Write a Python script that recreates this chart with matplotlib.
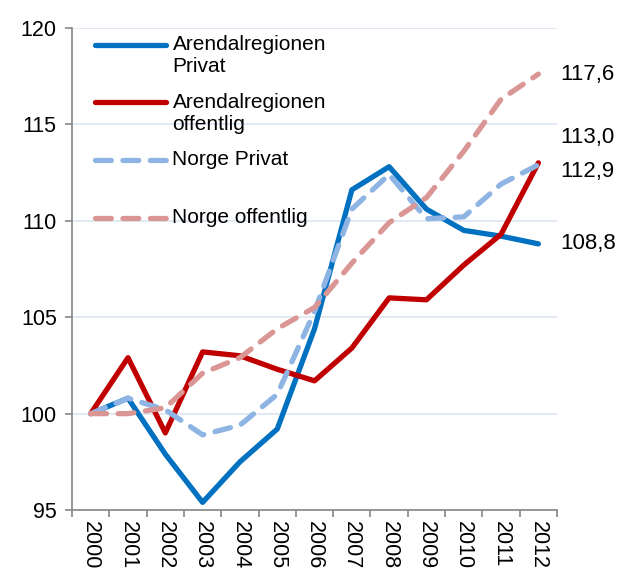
import numpy as np
from matplotlib import pyplot as plt
from matplotlib.legend_handler import HandlerLine2D
from matplotlib.transforms import Affine2D

plt.rcParams['font.family'] = ['Liberation Sans', 'DejaVu Sans']

years = [str(y) for y in range(2000, 2013)]
arendal_privat = [100.0, 100.8, 97.9, 95.4, 97.5, 99.2, 104.4, 111.6, 112.8, 110.6, 109.5, 109.2, 108.8]
arendal_offentlig = [100.0, 102.9, 99.0, 103.2, 103.0, 102.3, 101.7, 103.4, 106.0, 105.9, 107.7, 109.3, 113.0]
norge_privat = [100.0, 100.8, 100.2, 98.9, 99.4, 101.0, 105.3, 110.6, 112.4, 110.1, 110.2, 111.9, 112.9]
norge_offentlig = [100.0, 100.0, 100.3, 102.1, 102.9, 104.4, 105.5, 107.8, 109.9, 111.2, 113.6, 116.3, 117.6]

# every legend entry takes two lines, like in the original
labels = ['Arendalregionen\nPrivat', 'Arendalregionen\noffentlig', 'Norge Privat\n ', 'Norge offentlig\n ']


class FirstLineHandler(HandlerLine2D):
    # put the handle next to the first text line instead of the middle
    def __init__(self, shift, **kw):
        super().__init__(**kw)
        self.shift = shift

    def create_artists(self, legend, orig_handle, xdescent, ydescent, width, height, fontsize, trans):
        artists = super().create_artists(legend, orig_handle, xdescent, ydescent,
                                         width, height, fontsize, trans)
        for a in artists:
            a.set_transform(Affine2D().translate(0, self.shift) + trans)
        return artists


def main():
    fig = plt.figure(figsize=(6.21, 5.79), dpi=100)
    ax = fig.add_axes([0.116, 0.119, 0.781, 0.833])
    x = np.arange(len(years))

    l1, = ax.plot(x, arendal_privat, color='#0070C0', lw=3.8, solid_capstyle='round')
    l2, = ax.plot(x, arendal_offentlig, color='#C00000', lw=3.8, solid_capstyle='round')
    l3, = ax.plot(x, norge_privat, color='#8EB4E3', lw=3.8, ls=(0, (3, 2.2)), dash_capstyle='round')
    l4, = ax.plot(x, norge_offentlig, color='#D99694', lw=3.8, ls=(0, (3, 2.2)), dash_capstyle='round')

    ax.set_xlim(-0.5, len(years) - 0.5)
    ax.set_ylim(95, 120)
    ax.set_yticks(range(95, 121, 5))
    ax.yaxis.grid(True, color='#DCE6F2', lw=1.2)
    ax.set_axisbelow(True)

    ax.set_xticks(np.arange(-0.5, len(years), 1.0))
    ax.set_xticklabels([])
    ax.set_xticks(x, minor=True)
    ax.set_xticklabels(years, minor=True, rotation=270)
    ax.tick_params(axis='x', which='minor', length=0, pad=8, labelsize=15.5)
    ax.tick_params(axis='x', which='major', length=5, color='#868686', width=1.2)
    ax.tick_params(axis='y', length=5, color='#868686', width=1.2, labelsize=15.5, pad=6)

    for s in ['top', 'right']:
        ax.spines[s].set_visible(False)
    for s in ['left', 'bottom']:
        ax.spines[s].set_color('#868686')
        ax.spines[s].set_linewidth(1.2)

    # end labels
    offsets = [(16, 0), (16, 18), (16, -5), (16, 0)]
    for series, off in zip([arendal_privat, arendal_offentlig, norge_privat, norge_offentlig], offsets):
        ax.annotate('{0:.1f}'.format(series[-1]).replace('.', ','), (x[-1], series[-1]),
                    xytext=off, textcoords='offset points', va='center', ha='left',
                    fontsize=16, annotation_clip=False)

    handlers = {l: FirstLineHandler(8) for l in [l1, l2, l3, l4]}
    ax.legend([l1, l2, l3, l4], labels, loc='upper left', frameon=False,
              fontsize=15, handlelength=3.4, handletextpad=0.3, labelspacing=0.8,
              borderaxespad=0.0, bbox_to_anchor=(0.031, 1.002), handler_map=handlers)

    fig.savefig('out.png', dpi=100)


if __name__ == '__main__':
    main()
